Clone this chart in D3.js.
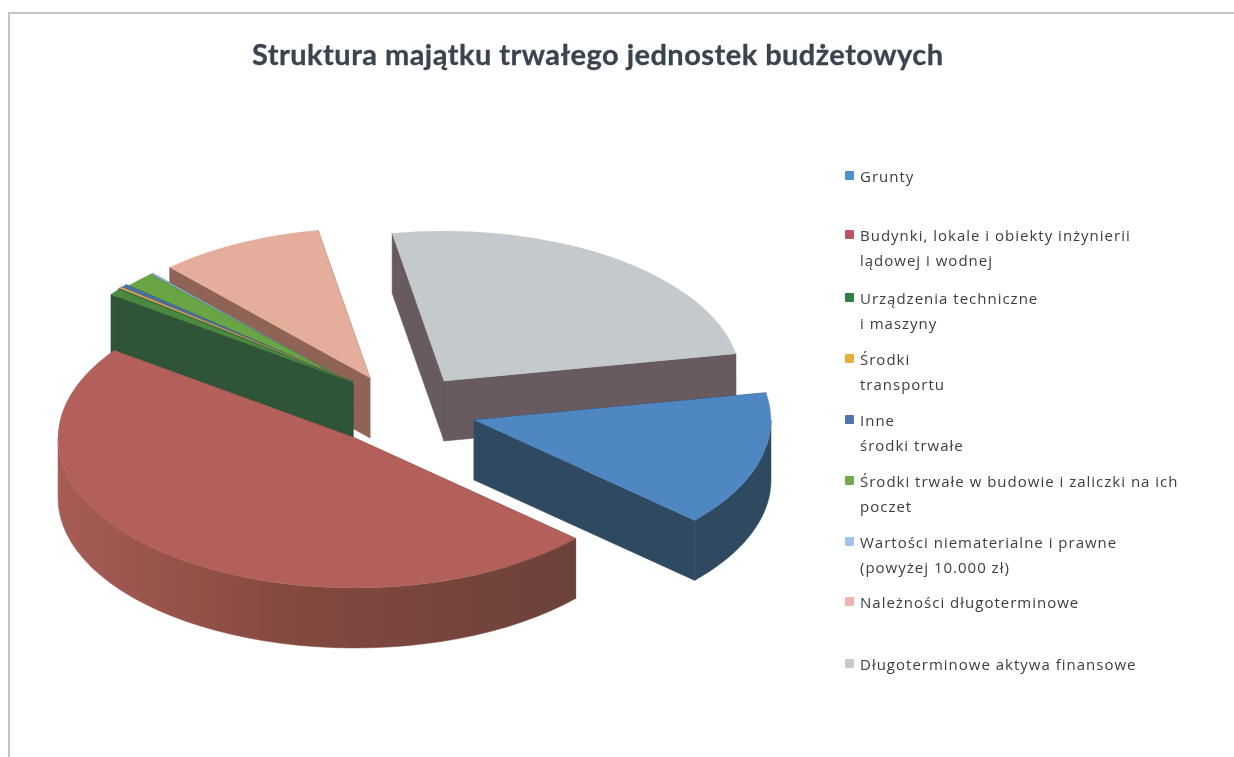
<!DOCTYPE html>
<html><head><meta charset="utf-8">
<script src="https://cdn.jsdelivr.net/npm/d3@7/dist/d3.min.js"></script>
<style>html,body{margin:0;padding:0;background:#fff}svg{display:block;filter:blur(0.5px)}</style>
</head><body><svg id="c" width="1234" height="757"></svg>
<script>
const title = "Struktura majątku trwałego jednostek budżetowych";
const categories = ["Grunty","Budynki, lokale i obiekty inżynierii lądowej i wodnej","Urządzenia techniczne i maszyny","Środki transportu","Inne środki trwałe","Środki trwałe w budowie i zaliczki na ich poczet","Wartości niematerialne i prawne (powyżej 10.000 zł)","Należności długoterminowe","Długoterminowe aktywa finansowe"];
const legendLines = [["Grunty"],["Budynki, lokale i obiekty inżynierii","lądowej i wodnej"],["Urządzenia techniczne","i maszyny"],["Środki","transportu"],["Inne","środki trwałe"],["Środki trwałe w budowie i zaliczki na ich","poczet"],["Wartości niematerialne i prawne","(powyżej 10.000 zł)"],["Należności długoterminowe"],["Długoterminowe aktywa finansowe"]];
const values = [14.6,48.3,0.7,0.2,0.42,1.8,0.17,9.0,24.9];
const topColors = ["#4f87c2","#b35f5a","#4a8a40","#c9a05c","#4a6ea8","#69a544","#8fb4d8","#e5ad9b","#c3c9cd"];
const wallColors = ["#2f4a60","#7a4640","#2f5438","#2f5438","#2f5438","#2f5438","#2f5438","#8f6355","#675b60"];
const legendColors = ["#4f8fd0","#bb5560","#2f8040","#e8ae3a","#4f74ad","#73a850","#a0c4ee","#efb5ae","#c6c9cd"];

const layout = {cx:402, cy:409, rx:297, ry:150, depth:60, start:79.5*Math.PI/180};
// explosion vector of every slice from the pie centre
const explode = [[72,11],[-47,29],[-50,-27],[-50,-28],[-50,-27],[-49,-25],[-49,-25],[-32,-31],[42,-28]];
const drawOrder = [8,7,6,5,4,3,2,0,1];

const svg = d3.select("#c");
const defs = svg.append("defs");
const redWall = defs.append("linearGradient").attr("id","redWall").attr("gradientUnits","userSpaceOnUse")
  .attr("x1",58).attr("x2",576).attr("y1",0).attr("y2",0);
redWall.append("stop").attr("offset",0).attr("stop-color","#a85c56");
redWall.append("stop").attr("offset",0.45).attr("stop-color","#84493f");
redWall.append("stop").attr("offset",1).attr("stop-color","#6b423a");

// frame
svg.append("path").attr("d","M9,757V13H1234").attr("fill","none").attr("stroke","#c2c4c6").attr("stroke-width",2);

svg.append("text").attr("x",252).attr("y",65).attr("font-family","Lato").attr("font-weight",700)
  .attr("font-size",29).attr("fill","#3b444e").attr("stroke","#3b444e").attr("stroke-width",0.3).attr("textLength",691).attr("lengthAdjust","spacing").text(title);

const pie = d3.pie().sort(null).startAngle(layout.start).endAngle(layout.start+2*Math.PI);
const arcs = pie(values);
const arcGen = d3.arc().innerRadius(0).outerRadius(layout.rx);
const pieG = svg.append("g");

drawOrder.forEach(i=>{
  const a = arcs[i];
  const ax = layout.cx+explode[i][0], ay = layout.cy+explode[i][1];
  const pt = (t,dy=0)=>[ax+layout.rx*Math.sin(t), ay-layout.ry*Math.cos(t)+dy];
  const wall = i===1 ? "url(#redWall)" : wallColors[i];
  const g = pieG.append("g");
  const line = d3.line();
  [a.startAngle,a.endAngle].forEach(t=>{
    const p=pt(t), q=pt(t,layout.depth);
    g.append("path").attr("d",line([[ax,ay],p,q,[ax,ay+layout.depth]])+"Z").attr("fill",wall).attr("stroke",wall).attr("stroke-width",0.5);
  });
  // outer wall: only the part facing the viewer (90..270 deg on the rim)
  const twoPi=2*Math.PI, lo=Math.PI/2, hi=3*Math.PI/2;
  [0,twoPi].forEach(k=>{
    const s=Math.max(a.startAngle-k,lo), e=Math.min(a.endAngle-k,hi);
    if(e>s){
      const ts=d3.range(0,41).map(n=>s+(e-s)*n/40);
      const pts=ts.map(t=>pt(t)).concat(ts.slice().reverse().map(t=>pt(t,layout.depth)));
      g.append("path").attr("d",line(pts)+"Z").attr("fill",wall).attr("stroke",wall).attr("stroke-width",0.5);
    }
  });
  g.append("path").attr("d",arcGen(a))
    .attr("transform",`translate(${ax},${ay}) scale(1,${layout.ry/layout.rx})`)
    .attr("fill",topColors[i]).attr("stroke",topColors[i]).attr("stroke-width",0.3);
});

// legend
const legendY = [176,235,298,359,420,481,542,602,664];
const lineGap = 25;
const lg = svg.append("g");
categories.forEach((c,i)=>{
  const y = legendY[i];
  lg.append("rect").attr("x",845).attr("y",y-5).attr("width",9).attr("height",9).attr("rx",1).attr("fill",legendColors[i]);
  legendLines[i].forEach((t,j)=>{
    lg.append("text").attr("x",860).attr("y",y+6+j*lineGap).attr("font-family","Open Sans").attr("font-size",15)
      .attr("letter-spacing",1.0).attr("fill","#3a3d42").text(t);
  });
});
</script></body></html>
